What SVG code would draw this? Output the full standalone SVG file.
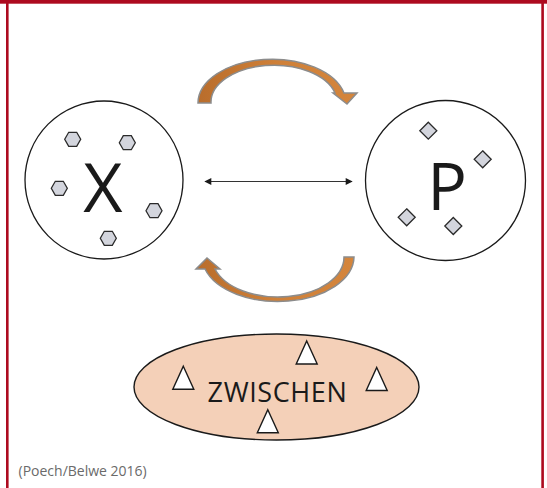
<svg xmlns="http://www.w3.org/2000/svg" width="547" height="488" viewBox="0 0 547 488">
<defs>
<style>
.frame{fill:#ad0a1f}
.big{fill:#fff;stroke:#1a1a1a;stroke-width:1.3}
.hex,.dia{fill:#d3d5dd;stroke:#2a2a2a;stroke-width:1.3;stroke-linejoin:miter}
.tri{fill:#fff;stroke:#1a1a1a;stroke-width:1.4;stroke-linejoin:miter}
.letter{font-family:"Open Sans","Liberation Sans",sans-serif;fill:#1a1a1a}
.curve{fill:url(#og);stroke:#8c8c8c;stroke-width:1.5;stroke-linejoin:miter}
.cap{font-family:"Open Sans","Liberation Sans",sans-serif;font-size:14px;fill:#6a6a6a}
</style>
<linearGradient id="og" x1="0" y1="0" x2="1" y2="0">
<stop offset="0" stop-color="#b96d2c"/>
<stop offset="0.5" stop-color="#cf8038"/>
<stop offset="1" stop-color="#d4853c"/>
</linearGradient>
<marker id="ah" viewBox="0 0 10 10" refX="9" refY="5" markerWidth="9" markerHeight="7" markerUnits="userSpaceOnUse" orient="auto-start-reverse">
<path d="M0,0 L10,5 L0,10 Z" fill="#1a1a1a"/>
</marker>
<polygon id="hx" points="-8,0 -4,-7 4,-7 8,0 4,7 -4,7"/>
<polygon id="dm" points="0,-8.5 8.5,0 0,8.5 -8.5,0"/>
<polygon id="tr" points="0,-11.5 10.5,11.5 -10.5,11.5"/>
</defs>
<rect x="0" y="0" width="547" height="488" fill="#fff"/>
<g id="frame">
<rect class="frame" x="0" y="0" width="547" height="3.7"/>
<rect class="frame" x="6" y="0" width="2.6" height="488"/>
<rect class="frame" x="541.3" y="0" width="2.6" height="488"/>
</g>
<g id="connectors">
<line x1="205" y1="181.5" x2="352" y2="181.5" stroke="#333" stroke-width="1.2" marker-start="url(#ah)" marker-end="url(#ah)"/>
<path class="curve" d="M198,103 A74,44 0 0 1 344,93 L357,93 L347,104 L333,93 L335,93 A63,37 0 0 0 211,103 Z"/>
<path class="curve" d="M354,257 A76,45 0 0 1 205,269 L196,269 L207,258 L220,269 L215,269 A66,40 0 0 0 344,257 Z"/>
</g>
<g id="node-x">
<circle class="big" cx="104" cy="180" r="79"/>
<text class="letter" x="103" y="212" font-size="68" text-anchor="middle">X</text>
<use href="#hx" class="hex" x="72.7" y="139.3"/>
<use href="#hx" class="hex" x="127.3" y="142.7"/>
<use href="#hx" class="hex" x="59.3" y="188.3"/>
<use href="#hx" class="hex" x="154" y="210.7"/>
<use href="#hx" class="hex" x="108.3" y="238.3"/>
</g>
<g id="node-p">
<circle class="big" cx="445.5" cy="180.5" r="80"/>
<text class="letter" x="447" y="210" font-size="66" text-anchor="middle">P</text>
<use href="#dm" class="dia" x="428.3" y="130.7"/>
<use href="#dm" class="dia" x="482.7" y="159.3"/>
<use href="#dm" class="dia" x="406.7" y="217.3"/>
<use href="#dm" class="dia" x="453.3" y="226"/>
</g>
<g id="node-zwischen">
<ellipse cx="276.5" cy="387" rx="142.5" ry="53" fill="#f4d0b8" stroke="#1a1a1a" stroke-width="1.4"/>
<text class="letter" x="277.5" y="401.5" font-size="27" letter-spacing="0.6" text-anchor="middle">ZWISCHEN</text>
<use href="#tr" class="tri" x="306.7" y="352.5"/>
<use href="#tr" class="tri" x="183.3" y="377.7"/>
<use href="#tr" class="tri" x="376.7" y="379"/>
<use href="#tr" class="tri" x="267.8" y="421.3"/>
</g>
<text class="cap" x="18.5" y="476">(Poech/Belwe 2016)</text>
</svg>
